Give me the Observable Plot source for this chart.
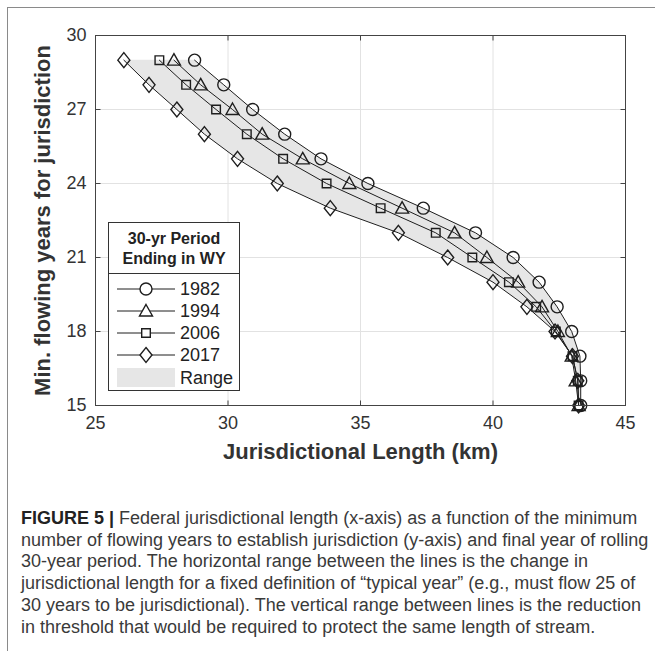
<!DOCTYPE html>
<html>
<head>
<meta charset="utf-8">
<script src="https://cdn.jsdelivr.net/npm/d3@7"></script>
<script src="https://cdn.jsdelivr.net/npm/@observablehq/plot@0.6"></script>
<style>
  html, body { margin: 0; padding: 0; background: #fff; }
  body { width: 655px; height: 651px; position: relative; overflow: hidden; font-family: "Liberation Sans", Arial, sans-serif; }
  #frame { position: absolute; left: 7px; top: 7px; right: -5px; bottom: -5px; border-top: 1.5px solid #8a8a8a; border-left: 1.5px solid #8a8a8a; }
  #chart { position: absolute; left: 0; top: 0; }
  #legend { position: absolute; left: 108px; top: 222px; width: 132px; height: 169px; border: 1px solid #333; background: #fff; box-sizing: border-box; }
  #legend .ttl { position: absolute; left: 0; top: 6px; width: 100%; text-align: center; font-weight: bold; font-size: 16px; line-height: 20px; color: #222; }
  #legend .sep { position: absolute; left: 0; top: 50px; width: 100%; border-top: 1px solid #333; }
  #legend svg { position: absolute; left: 0; top: 0; }
  #caption { position: absolute; left: 21px; top: 508px; font-size: 18px; line-height: 21.7px; color: #3a3a3a; white-space: nowrap; }
  #caption b { color: #222; }
</style>
</head>
<body>
<div id="frame"></div>
<div id="chart"></div>
<div id="legend">
  <div class="ttl">30-yr Period<br>Ending in WY</div>
  <div class="sep"></div>
</div>
<div id="caption"></div>
<script>
// ---- data ----
const years = [29, 28, 27, 26, 25, 24, 23, 22, 21, 20, 19, 18, 17, 16, 15];
const len1982 = [28.74, 29.84, 30.93, 32.14, 33.51, 35.28, 37.37, 39.34, 40.76, 41.74, 42.42, 42.97, 43.28, 43.31, 43.31];
const len1994 = [27.96, 28.97, 30.17, 31.29, 32.82, 34.58, 36.57, 38.55, 39.77, 40.95, 41.85, 42.45, 42.97, 43.12, 43.23];
const len2006 = [27.41, 28.42, 29.55, 30.71, 32.08, 33.72, 35.76, 37.84, 39.22, 40.60, 41.63, 42.37, 43.00, 43.20, 43.23];
const len2017 = [26.07, 27.02, 28.07, 29.11, 30.36, 31.86, 33.86, 36.43, 38.29, 40.00, 41.28, 42.34, 43.00, 43.20, 43.23];
const seriesNames = ["1982", "1994", "2006", "2017"];
const xTicks = [25, 30, 35, 40, 45];
const yTicks = [15, 18, 21, 24, 27, 30];
const xDomain = [25, 45];
const yDomain = [15, 30];
const xTitle = "Jurisdictional Length (km)";
const yTitle = "Min. flowing years for jurisdiction";
const rangeLabel = "Range";

// ---- symbols (MATLAB-like markers) ----
const symCircle = {draw(c) { c.moveTo(6, 0); c.arc(0, 0, 6, 0, 2 * Math.PI); }};
const symTriangle = {draw(c) { c.moveTo(0, -6.5); c.lineTo(6.5, 5); c.lineTo(-6.5, 5); c.closePath(); }};
const symSquare = {draw(c) { c.rect(-4.3, -4.3, 8.6, 8.6); }};
const symDiamond = {draw(c) { c.moveTo(0, -7.5); c.lineTo(6, 0); c.lineTo(0, 7.5); c.lineTo(-6, 0); c.closePath(); }};
const symbols = [symCircle, symTriangle, symSquare, symDiamond];
const tickLen = 5;
const tickUp = {draw(c) { c.moveTo(0, 0); c.lineTo(0, -tickLen); }};
const tickDown = {draw(c) { c.moveTo(0, 0); c.lineTo(0, tickLen); }};
const tickRight = {draw(c) { c.moveTo(0, 0); c.lineTo(tickLen, 0); }};
const tickLeft = {draw(c) { c.moveTo(0, 0); c.lineTo(-tickLen, 0); }};

// ---- tables ----
const allLens = [len1982, len1994, len2006, len2017];
const rows = seriesNames.flatMap((s, k) => years.map((y, i) => ({series: s, x: allLens[k][i], y})));
const range = years.map((y, i) => ({y, lo: d3.min(allLens, a => a[i]), hi: d3.max(allLens, a => a[i])}));

const ink = "#1e1e1e";
const axisInk = "#444";

const marks = [
  Plot.gridX(xTicks.slice(1, -1), {stroke: "#e2e2e2", strokeOpacity: 1, strokeWidth: 1}),
  Plot.gridY(yTicks.slice(1, -1), {stroke: "#e2e2e2", strokeOpacity: 1, strokeWidth: 1}),
  Plot.areaX(range, {y: "y", x1: "lo", x2: "hi", fill: "#e6e6e6"}),
  Plot.line(rows, {x: "x", y: "y", z: "series", stroke: ink, strokeWidth: 1}),
  ...seriesNames.map((s, k) => Plot.dot(rows.filter(d => d.series === s), {x: "x", y: "y", symbol: symbols[k], fill: "none", stroke: ink, strokeWidth: 1.4})),
  Plot.frame({stroke: axisInk, strokeWidth: 1}),
  Plot.dot(xTicks, {x: d => d, y: () => yDomain[0], symbol: tickUp, stroke: axisInk, strokeWidth: 1}),
  Plot.dot(xTicks, {x: d => d, y: () => yDomain[1], symbol: tickDown, stroke: axisInk, strokeWidth: 1}),
  Plot.dot(yTicks, {y: d => d, x: () => xDomain[0], symbol: tickRight, stroke: axisInk, strokeWidth: 1}),
  Plot.dot(yTicks, {y: d => d, x: () => xDomain[1], symbol: tickLeft, stroke: axisInk, strokeWidth: 1}),
  Plot.axisX(xTicks, {tickSize: 0, tickPadding: 11, label: null, fontSize: 18, fill: "#333"}),
  Plot.axisY(yTicks, {tickSize: 0, tickPadding: 9, label: null, fontSize: 18, fill: "#333"}),
  Plot.text([xTitle], {frameAnchor: "bottom", dy: 53, text: d => d, textAnchor: "middle", fontSize: 22, fontWeight: "bold", fill: "#333"}),
  Plot.text([yTitle], {frameAnchor: "left", dx: -53, rotate: -90, text: d => d, textAnchor: "middle", fontSize: 22, fontWeight: "bold", fill: "#333"})
];

const chart = Plot.plot({
  width: 655,
  height: 475,
  marginLeft: 95,
  marginRight: 30,
  marginTop: 35,
  marginBottom: 70,
  x: {domain: xDomain, axis: null},
  y: {domain: yDomain, axis: null},
  style: {fontFamily: "'Liberation Sans', Arial, sans-serif", fontSize: "16px", color: "#333", background: "transparent"},
  marks
});
document.getElementById("chart").appendChild(chart);

// ---- legend ----
const lg = d3.select("#legend").append("svg").attr("width", 132).attr("height", 169);
const rowY = [66, 88, 110, 132];
seriesNames.forEach((s, k) => {
  const y = rowY[k];
  lg.append("line").attr("x1", 8).attr("x2", 66).attr("y1", y).attr("y2", y).attr("stroke", ink).attr("stroke-width", 1);
  const p = d3.path(); symbols[k].draw(p);
  lg.append("path").attr("d", p.toString()).attr("transform", `translate(37,${y})`).attr("fill", "#fff").attr("stroke", ink).attr("stroke-width", 1.4);
  lg.append("text").attr("x", 71).attr("y", y).attr("dy", "0.36em").attr("font-size", 18).attr("fill", "#222").text(s);
});
lg.append("rect").attr("x", 8).attr("y", 145).attr("width", 58).attr("height", 19).attr("fill", "#e6e6e6");
lg.append("text").attr("x", 71).attr("y", 155).attr("dy", "0.36em").attr("font-size", 18).attr("fill", "#222").text(rangeLabel);

// ---- caption ----
const captionLines = [
  "Federal jurisdictional length (x-axis) as a function of the minimum",
  "number of flowing years to establish jurisdiction (y-axis) and final year of rolling",
  "30-year period. The horizontal range between the lines is the change in",
  "jurisdictional length for a fixed definition of \u201ctypical year\u201d (e.g., must flow 25 of",
  "30 years to be jurisdictional). The vertical range between lines is the reduction",
  "in threshold that would be required to protect the same length of stream."
];
const cap = document.getElementById("caption");
captionLines.forEach((t, i) => {
  const div = document.createElement("div");
  if (i === 0) {
    const b = document.createElement("b");
    b.textContent = "FIGURE 5 | ";
    div.appendChild(b);
  }
  div.appendChild(document.createTextNode(t));
  cap.appendChild(div);
});
</script>
</body>
</html>
